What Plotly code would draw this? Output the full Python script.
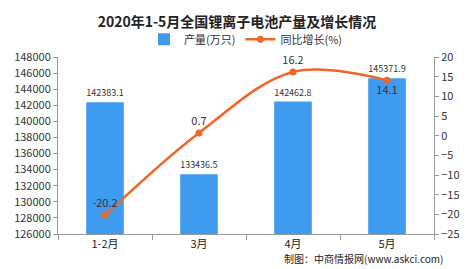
import plotly.graph_objects as go

categories = ["1-2月", "3月", "4月", "5月"]
output = [142383.1, 133436.5, 142462.8, 145371.9]
growth = [-20.2, 0.7, 16.2, 14.1]
output_labels = ["142383.1", "133436.5", "142462.8", "145371.9"]
growth_labels = ["-20.2", "0.7", "16.2", "14.1"]
growth_pos = ["top center", "top center", "top center", "bottom center"]

blue = "#3F9BF0"
orange = "#F0662A"
font_family = "Noto Sans CJK SC, DejaVu Sans"

fig = go.Figure()
fig.add_trace(go.Bar(
    x=categories, y=output, name="产量(万只)",
    marker=dict(color=blue, line=dict(width=0)),
    text=output_labels, textposition="outside",
    textfont=dict(size=10, color="#333333"), cliponaxis=False,
))
fig.add_trace(go.Scatter(
    x=categories, y=growth, name="同比增长(%)", yaxis="y2",
    mode="lines+markers+text", line=dict(color=orange, width=2.5, shape="spline"),
    marker=dict(size=7, color=orange),
    text=growth_labels, textposition=growth_pos,
    textfont=dict(size=11, color="#333333"), cliponaxis=False,
))

fig.update_layout(
    width=474, height=269,
    margin=dict(l=58, r=40, t=57, b=35),
    paper_bgcolor="white", plot_bgcolor="white",
    font=dict(family=font_family, size=11, color="#333333"),
    title=dict(text="<b>2020年1-5月全国锂离子电池产量及增长情况</b>",
               x=0.5, xanchor="center", y=1 - 22 / 269, yanchor="middle",
               font=dict(size=14, color="#222222")),
    legend=dict(orientation="h", x=0.5, xanchor="center", y=1.1, yanchor="middle",
                font=dict(size=11), bgcolor="rgba(0,0,0,0)", itemwidth=30),
    bargap=0.6,
    showlegend=True,
    xaxis=dict(showline=True, linecolor="#999999", linewidth=1,
               ticks="outside", tickcolor="#999999", ticklen=5,
               tickson="boundaries", tickfont=dict(size=11, color="#222222"),
               showgrid=False),
    yaxis=dict(range=[126000, 148000], dtick=2000, showline=True,
               linecolor="#999999", ticks="outside", tickcolor="#999999", ticklen=4,
               showgrid=False, zeroline=False, tickformat="d",
               tickfont=dict(size=11, color="#333333")),
    yaxis2=dict(range=[-25, 20], dtick=5, overlaying="y", side="right",
                showline=True, linecolor="#999999", ticks="outside",
                tickcolor="#999999", ticklen=4, showgrid=False, zeroline=False,
                tickfont=dict(size=11, color="#333333")),
)

fig.add_annotation(text="制图：中商情报网(www.askci.com)", xref="paper", yref="paper",
                   x=1.03, y=-(258 - 234) / 177, xanchor="right", yanchor="middle",
                   showarrow=False, font=dict(size=10, color="#222222"))

fig.write_html("out.html")
